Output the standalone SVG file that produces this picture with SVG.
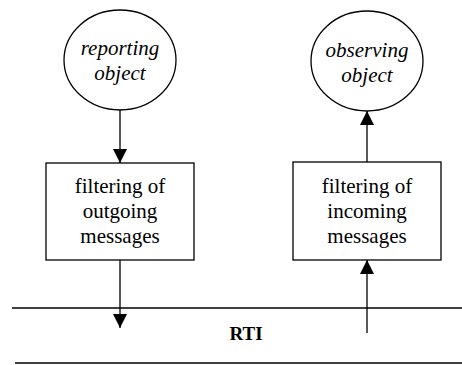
<svg xmlns="http://www.w3.org/2000/svg" width="462" height="365" viewBox="0 0 462 365">
<defs>
<marker id="ah" viewBox="0 0 14 14" markerWidth="14" markerHeight="14" refX="14" refY="7" orient="auto" markerUnits="userSpaceOnUse">
<path d="M0,0 L14,7 L0,14 Z" fill="#000"/>
</marker>
</defs>
<style>
.sh{fill:#fff;stroke:#000;stroke-width:1.3}
.ln{fill:none;stroke:#000;stroke-width:1.3}
.t{font-family:'Liberation Serif','Times New Roman',Tinos,'DejaVu Serif','Noto Serif',serif;font-size:21px;fill:#000;text-anchor:middle}
.i{font-style:italic}
.b{font-weight:bold;font-size:19px}
</style>
<rect width="462" height="365" fill="#fff"/>
<g id="rti">
<line class="ln" x1="12" y1="308" x2="462" y2="308"/>
<line class="ln" x1="15" y1="363" x2="462" y2="363"/>
<text class="t b" x="246" y="340">RTI</text>
</g>
<g id="reporting">
<ellipse class="sh" cx="120" cy="60" rx="56" ry="50"/>
<text class="t i" x="120" y="55">reporting</text>
<text class="t i" x="120" y="80">object</text>
</g>
<g id="observing">
<ellipse class="sh" cx="367" cy="61" rx="56" ry="50"/>
<text class="t i" x="367" y="57">observing</text>
<text class="t i" x="367" y="82">object</text>
</g>
<g id="outgoing">
<rect class="sh" x="46" y="163" width="148" height="97"/>
<text class="t" x="120" y="193">filtering of</text>
<text class="t" x="120" y="218">outgoing</text>
<text class="t" x="120" y="243">messages</text>
</g>
<g id="incoming">
<rect class="sh" x="293" y="162" width="148" height="98"/>
<text class="t" x="367" y="193">filtering of</text>
<text class="t" x="367" y="218">incoming</text>
<text class="t" x="367" y="243">messages</text>
</g>
<g id="connectors">
<line class="ln" x1="120" y1="110" x2="120" y2="163" marker-end="url(#ah)"/>
<line class="ln" x1="120" y1="260" x2="120" y2="328" marker-end="url(#ah)"/>
<line class="ln" x1="367" y1="162" x2="367" y2="111" marker-end="url(#ah)"/>
<line class="ln" x1="367" y1="333" x2="367" y2="260" marker-end="url(#ah)"/>
</g>
</svg>
